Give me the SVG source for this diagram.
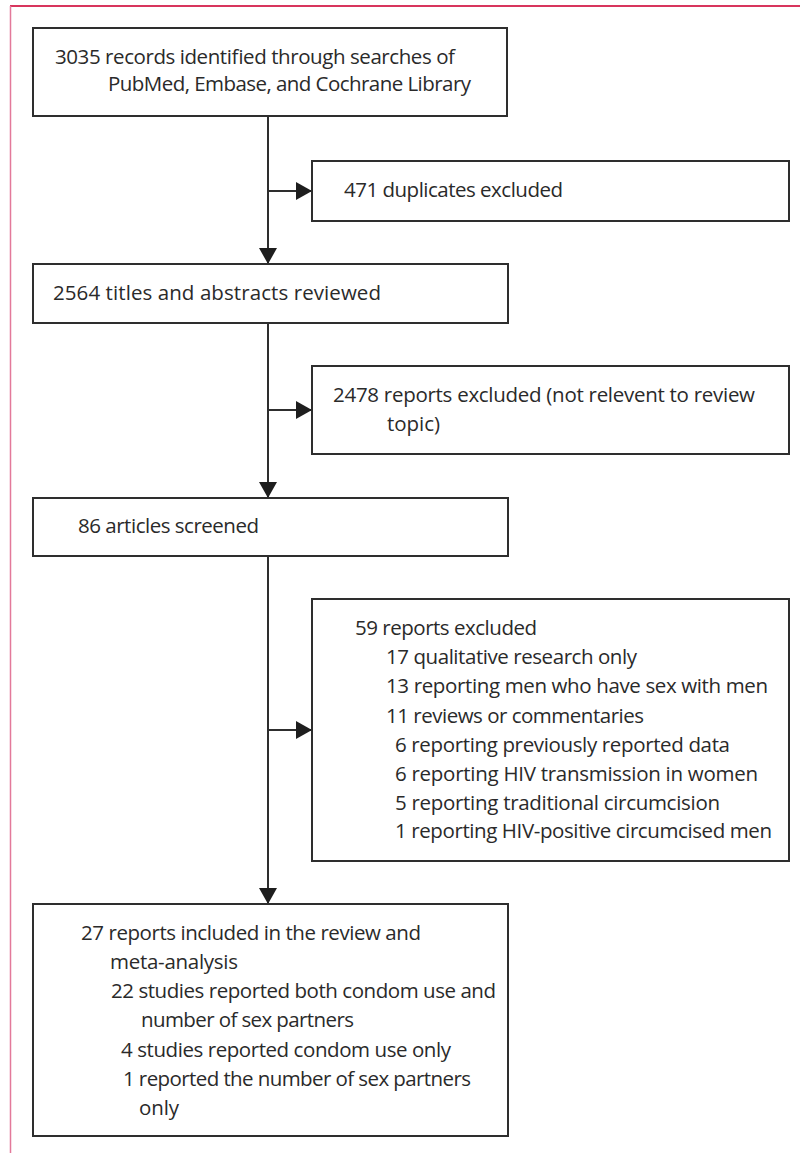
<svg xmlns="http://www.w3.org/2000/svg" width="800" height="1153" viewBox="0 0 800 1153">
<defs>
<style>
.box{fill:#fff;stroke:#2e2e2e;stroke-width:2}
.t{font-family:"Open Sans","Noto Sans","Liberation Sans",sans-serif;font-size:20.5px;fill:#2a2a2a}
.ln{stroke:#2e2e2e;stroke-width:2;fill:none}
</style>
<marker id="ah" markerWidth="16" markerHeight="18" refX="16" refY="9" orient="auto" markerUnits="userSpaceOnUse">
<path d="M0,0 L16,9 L0,18 Z" fill="#1e1e1e"/>
</marker>
</defs>
<rect width="800" height="1153" fill="#fff"/>
<line x1="10" y1="6" x2="800" y2="6" stroke="#d8355d" stroke-width="2"/>
<line x1="10.5" y1="6" x2="10.5" y2="1153" stroke="#e3799a" stroke-width="1.5"/>

<g id="connectors">
<line class="ln" x1="268" y1="116" x2="268" y2="264" marker-end="url(#ah)"/>
<line class="ln" x1="268" y1="191" x2="312" y2="191" marker-end="url(#ah)"/>
<line class="ln" x1="268" y1="323" x2="268" y2="498" marker-end="url(#ah)"/>
<line class="ln" x1="268" y1="410" x2="312" y2="410" marker-end="url(#ah)"/>
<line class="ln" x1="268" y1="556" x2="268" y2="904" marker-end="url(#ah)"/>
<line class="ln" x1="268" y1="730" x2="312" y2="730" marker-end="url(#ah)"/>
</g>

<g id="n1">
<rect class="box" x="33" y="28" width="474" height="88"/>
<text class="t" x="55" y="64" textLength="400">3035 records identified through searches of</text>
<text class="t" x="108" y="91" textLength="363">PubMed, Embase, and Cochrane Library</text>
</g>

<g id="n2">
<rect class="box" x="312" y="161" width="477" height="60"/>
<text class="t" x="344" y="197" textLength="219">471 duplicates excluded</text>
</g>

<g id="n3">
<rect class="box" x="33" y="264" width="475" height="59"/>
<text class="t" x="53" y="300" textLength="328">2564 titles and abstracts reviewed</text>
</g>

<g id="n4">
<rect class="box" x="312" y="366" width="477" height="88"/>
<text class="t" x="333" y="402" textLength="422">2478 reports excluded (not relevent to review</text>
<text class="t" x="387" y="431" textLength="53">topic)</text>
</g>

<g id="n5">
<rect class="box" x="33" y="498" width="475" height="58"/>
<text class="t" x="78" y="533" textLength="181">86 articles screened</text>
</g>

<g id="n6">
<rect class="box" x="312" y="599" width="477" height="262"/>
<text class="t" x="355" y="635" textLength="182">59 reports excluded</text>
<text class="t" x="386" y="664" textLength="251">17 qualitative research only</text>
<text class="t" x="386" y="693" textLength="382">13 reporting men who have sex with men</text>
<text class="t" x="386" y="723" textLength="258">11 reviews or commentaries</text>
<text class="t" x="395" y="752" textLength="335">6 reporting previously reported data</text>
<text class="t" x="395" y="781" textLength="363">6 reporting HIV transmission in women</text>
<text class="t" x="395" y="810" textLength="325">5 reporting traditional circumcision</text>
<text class="t" x="395" y="838" textLength="377">1 reporting HIV-positive circumcised men</text>
</g>

<g id="n7">
<rect class="box" x="33" y="904" width="475" height="232"/>
<text class="t" x="81" y="940" textLength="340">27 reports included in the review and</text>
<text class="t" x="110" y="969" textLength="128">meta-analysis</text>
<text class="t" x="111" y="998" textLength="385">22 studies reported both condom use and</text>
<text class="t" x="141" y="1027" textLength="213">number of sex partners</text>
<text class="t" x="121" y="1057" textLength="330">4 studies reported condom use only</text>
<text class="t" x="123" y="1086" textLength="348">1 reported the number of sex partners</text>
<text class="t" x="139" y="1115" textLength="40">only</text>
</g>
</svg>
